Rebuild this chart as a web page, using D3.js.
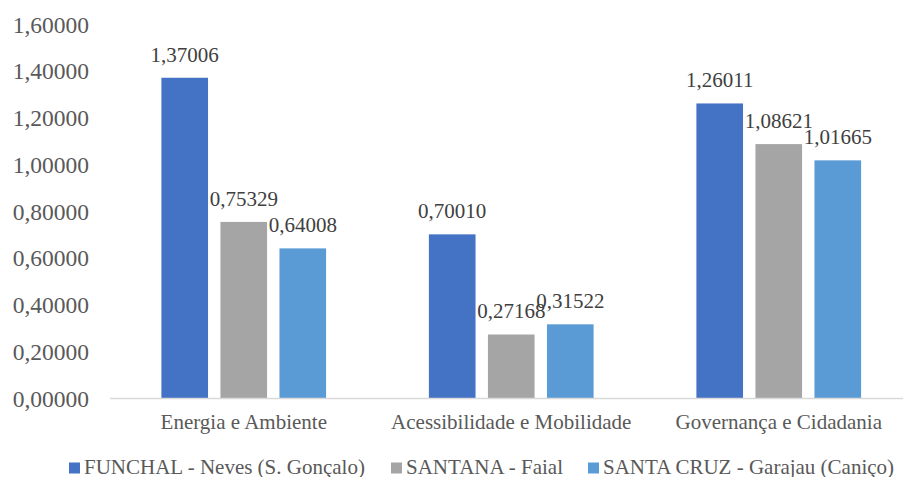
<!DOCTYPE html>
<html>
<head>
<meta charset="utf-8">
<script src="https://cdn.jsdelivr.net/npm/d3@7/dist/d3.min.js"></script>
</head>
<body style="margin:0;background:#fff">
<svg id="bars" width="903" height="477" style="display:block"></svg>
<script>
// Categories, series and tick values
const categories = ["Energia e Ambiente", "Acessibilidade e Mobilidade", "Governança e Cidadania"];
const seriesNames = ["FUNCHAL - Neves (S. Gonçalo)", "SANTANA - Faial", "SANTA CRUZ - Garajau (Caniço)"];
const funchalValues = [1.37006, 0.70010, 1.26011];
const santanaValues = [0.75329, 0.27168, 1.08621];
const santaCruzValues = [0.64008, 0.31522, 1.01665];
const seriesColors = ["#4472C4", "#A5A5A5", "#5B9BD5"];
const yTicks = [0, 0.2, 0.4, 0.6, 0.8, 1.0, 1.2, 1.4, 1.6];

const seriesValues = [funchalValues, santanaValues, santaCruzValues];
const fmt = v => v.toFixed(5).replace(".", ",");
const FONT = "Liberation Serif";
const TEXT = "#595959";

const svg = d3.select("#bars");

const x0 = d3.scaleBand().domain(categories).range([110, 912.5]).paddingInner(0).paddingOuter(0);
const x1 = d3.scaleBand().domain(d3.range(3)).range([51.4, x0.bandwidth() - 51.4]).paddingInner(0.21).paddingOuter(0);
const y = d3.scaleLinear().domain([0, 1.6]).range([398, 24]);

// Value axis labels
const yAxis = svg.append("g").attr("transform", "translate(89,0)")
  .call(d3.axisLeft(y).tickValues(yTicks).tickFormat(fmt).tickSize(0).tickPadding(0));
yAxis.select(".domain").remove();
yAxis.selectAll("text").attr("dy", "0.34em").attr("data-size", 23.5).attr("data-fill", TEXT);

// Bars
const rows = categories.map((c, i) => ({ cat: c, vals: seriesValues.map(s => s[i]) }));
const groups = svg.append("g").selectAll("g").data(rows).join("g")
  .attr("transform", d => `translate(${x0(d.cat)},0)`);

groups.selectAll("rect").data(d => d.vals.map((v, k) => ({ v, k }))).join("rect")
  .attr("x", d => x1(d.k))
  .attr("width", x1.bandwidth())
  .attr("y", d => y(d.v))
  .attr("height", d => y(0) - y(d.v))
  .attr("fill", d => seriesColors[d.k]);

// Data labels
groups.selectAll("text.val").data(d => d.vals.map((v, k) => ({ v, k }))).join("text")
  .attr("class", "val")
  .attr("x", d => x1(d.k) + x1.bandwidth() / 2)
  .attr("y", d => y(d.v) - 16)
  .attr("text-anchor", "middle")
  .attr("data-size", 21).attr("data-fill", "#404040")
  .text(d => fmt(d.v));

// Category axis
const xAxis = svg.append("g").attr("transform", "translate(0,398)")
  .call(d3.axisBottom(x0).tickSize(0).tickPadding(0));
xAxis.select(".domain").attr("d", "M110,0.5H903").attr("stroke", "#D9D9D9").attr("stroke-width", 1.5);
xAxis.selectAll("text").attr("y", 31).attr("dy", 0).attr("data-size", 21).attr("data-fill", TEXT);

// Legend
const legendX = [69, 391, 588];
const legend = svg.append("g").selectAll("g").data(seriesNames).join("g")
  .attr("transform", (d, i) => `translate(${legendX[i]},0)`);
legend.append("rect").attr("x", 0).attr("y", 462.5).attr("width", 11).attr("height", 11)
  .attr("fill", (d, i) => seriesColors[i]);
legend.append("text").attr("x", 15).attr("y", 473.5)
  .attr("data-size", 21).attr("data-fill", TEXT)
  .text(d => d);

// Apply the typeface, size and colour to every text element
svg.selectAll("text").each(function () {
  const el = d3.select(this);
  this.style.setProperty("font-family", `"${FONT}", "Times New Roman", serif`, "important");
  this.style.setProperty("font-size", el.attr("data-size") + "px", "important");
  this.style.setProperty("fill", el.attr("data-fill"), "important");
  el.attr("font-family", FONT).attr("font-size", el.attr("data-size")).attr("fill", el.attr("data-fill"));
});
</script>
</body>
</html>
